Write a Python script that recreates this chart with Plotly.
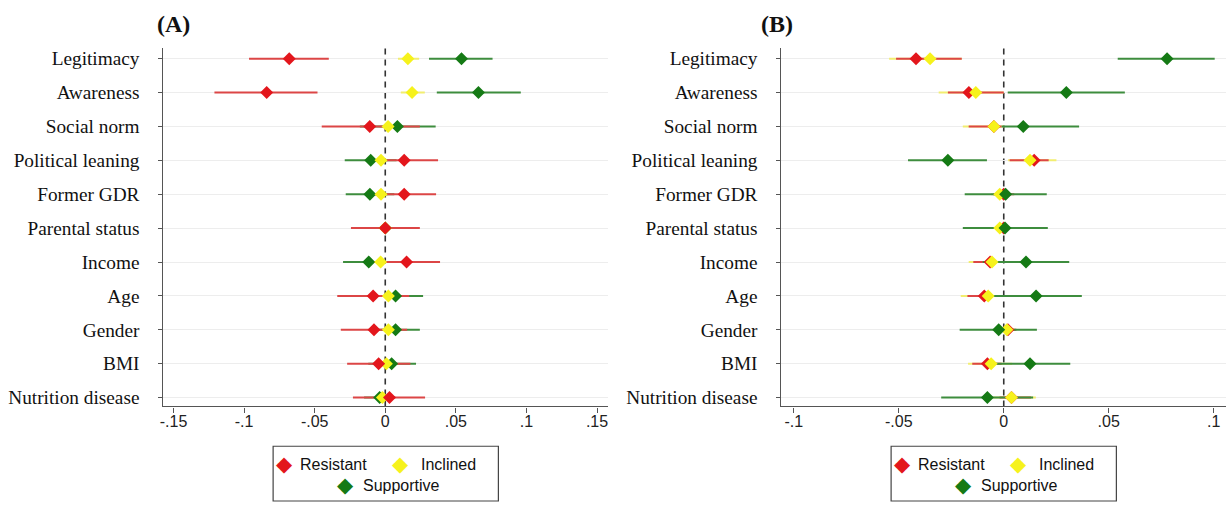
import plotly.graph_objects as go

W, H = 1231, 506

categories = ["Legitimacy", "Awareness", "Social norm", "Political leaning", "Former GDR",
              "Parental status", "Income", "Age", "Gender", "BMI", "Nutrition disease"]
groups = ["Resistant", "Inclined", "Supportive"]

# Panel A estimates and confidence bounds
a_res_est = [-0.068, -0.084, -0.011, 0.0134, 0.0134, 0.0, 0.0151, -0.0086, -0.008, -0.0047, 0.003]
a_res_lo = [-0.0965, -0.121, -0.045, -0.0106, -0.009, -0.0243, -0.0086, -0.034, -0.0315, -0.027, -0.0229]
a_res_hi = [-0.040, -0.048, 0.0245, 0.0374, 0.036, 0.0245, 0.0388, 0.017, 0.0155, 0.0178, 0.0282]
a_inc_est = [0.016, 0.019, 0.002, -0.003, -0.003, 0.0, -0.0033, 0.0022, 0.0022, 0.0008, -0.002]
a_inc_lo = [0.009, 0.011, -0.004, -0.008, -0.008, -0.005, -0.008, -0.003, -0.003, -0.004, -0.007]
a_inc_hi = [0.024, 0.028, 0.008, 0.002, 0.002, 0.005, 0.002, 0.007, 0.007, 0.006, 0.003]
a_sup_est = [0.054, 0.066, 0.0086, -0.0103, -0.0109, 0.0, -0.0117, 0.0073, 0.0073, 0.0045, -0.004]
a_sup_lo = [0.031, 0.0365, -0.018, -0.0287, -0.028, -0.015, -0.0299, -0.012, -0.010, -0.012, -0.015]
a_sup_hi = [0.076, 0.096, 0.0357, 0.008, 0.0064, 0.015, 0.0065, 0.0268, 0.0245, 0.0218, 0.007]

# Panel B estimates and confidence bounds
b_res_est = [-0.0418, -0.0166, -0.0047, 0.0145, 0.0, 0.0, -0.0065, -0.0093, 0.002, -0.0078, 0.0037]
b_res_lo = [-0.0513, -0.0266, -0.0167, 0.0028, -0.005, -0.005, -0.0145, -0.0173, -0.002, -0.015, -0.002]
b_res_hi = [-0.020, 0.0, -0.001, 0.0214, 0.005, 0.005, 0.001, -0.001, 0.006, -0.001, 0.013]
b_inc_est = [-0.0351, -0.0133, -0.0047, 0.0125, -0.0019, -0.0019, -0.0056, -0.0074, 0.0015, -0.006, 0.0037]
b_inc_lo = [-0.0546, -0.031, -0.0195, 0.002, -0.006, -0.006, -0.0167, -0.0205, -0.003, -0.017, -0.005]
b_inc_hi = [-0.020, 0.0, 0.0, 0.0251, 0.003, 0.003, 0.002, 0.003, 0.006, 0.004, 0.0153]
b_sup_est = [0.0778, 0.0298, 0.0093, -0.0266, 0.0009, 0.0006, 0.0106, 0.0154, -0.0024, 0.0125, -0.0078]
b_sup_lo = [0.0543, 0.0019, -0.001, -0.0456, -0.0186, -0.0195, -0.010, -0.0064, -0.021, -0.0067, -0.0298]
b_sup_hi = [0.1005, 0.0577, 0.0359, -0.008, 0.0205, 0.021, 0.0312, 0.0372, 0.0158, 0.0317, 0.014]

a_ticks = [-0.15, -0.1, -0.05, 0, 0.05, 0.1, 0.15]
a_ticktext = ["-.15", "-.1", "-.05", "0", ".05", ".1", ".15"]
b_ticks = [-0.1, -0.05, 0, 0.05, 0.1]
b_ticktext = ["-.1", "-.05", "0", ".05", ".1"]

marker_col = {"Resistant": "#e3161c", "Inclined": "#f6f21c", "Supportive": "#157a15"}
line_col = {"Resistant": "#dc4646", "Inclined": "#f2ee70", "Supportive": "#3e8d3e"}

panels = {
    "A": {"Resistant": (a_res_est, a_res_lo, a_res_hi),
          "Inclined": (a_inc_est, a_inc_lo, a_inc_hi),
          "Supportive": (a_sup_est, a_sup_lo, a_sup_hi)},
    "B": {"Resistant": (b_res_est, b_res_lo, b_res_hi),
          "Inclined": (b_inc_est, b_inc_lo, b_inc_hi),
          "Supportive": (b_sup_est, b_sup_lo, b_sup_hi)},
}
ci_order = {"A": ["Inclined", "Supportive", "Resistant"], "B": ["Inclined", "Resistant", "Supportive"]}
mk_order = {"A": ["Supportive", "Inclined", "Resistant"], "B": ["Resistant", "Inclined", "Supportive"]}
axes = {"A": ("x", "y"), "B": ("x2", "y2")}

fig = go.Figure()
for p in ["A", "B"]:
    xa, ya = axes[p]
    for g in ci_order[p]:
        est, lo, hi = panels[p][g]
        fig.add_trace(go.Scatter(
            x=est, y=categories, xaxis=xa, yaxis=ya, mode="markers",
            marker=dict(size=1, color="rgba(0,0,0,0)"),
            error_x=dict(type="data", symmetric=False,
                         array=[h - e for h, e in zip(hi, est)],
                         arrayminus=[e - l for e, l in zip(est, lo)],
                         color=line_col[g], thickness=2, width=0),
            showlegend=False, hoverinfo="skip"))
    for g in mk_order[p]:
        est, lo, hi = panels[p][g]
        fig.add_trace(go.Scatter(
            x=est, y=categories, xaxis=xa, yaxis=ya, mode="markers", name=g,
            marker=dict(symbol="diamond", size=10, color=marker_col[g], line=dict(width=0)),
            showlegend=False))

ydom = [1 - 408 / H, 1 - 48 / H]
xdomA = [160 / W, 606 / W]
xdomB = [780 / W, 1226 / W]

common_x = dict(showgrid=False, zeroline=False, showline=True, linecolor="#555555", linewidth=1.3,
                ticks="outside", ticklen=5, tickcolor="#555555", tickwidth=1.2,
                tickfont=dict(family="Liberation Sans, Arial, sans-serif", size=16, color="#222222"),
                ticklabelstandoff=-5)
common_y = dict(type="category", categoryorder="array", categoryarray=categories,
                range=[10.26, -0.32], showgrid=True, gridcolor="#ededed", gridwidth=1,
                zeroline=False, showline=True, linecolor="#555555", linewidth=1.3,
                ticks="outside", ticklen=4, tickcolor="#555555", tickwidth=1.2,
                tickfont=dict(family="Liberation Serif, Times New Roman, serif", size=19.3, color="#111111"),
                ticklabelstandoff=15)

fig.update_layout(
    width=W, height=H, margin=dict(l=0, r=0, t=0, b=0),
    paper_bgcolor="white", plot_bgcolor="white",
    xaxis=dict(domain=xdomA, range=[-0.1571, 0.1578], tickvals=a_ticks, ticktext=a_ticktext,
               anchor="y", **common_x),
    yaxis=dict(domain=ydom, anchor="x", **common_y),
    xaxis2=dict(domain=xdomB, range=[-0.1059, 0.1059], tickvals=b_ticks, ticktext=b_ticktext,
                anchor="y2", **common_x),
    yaxis2=dict(domain=ydom, anchor="x2", **common_y),
    showlegend=False,
)

# dashed zero lines
for xr, yr in [("x", "y domain"), ("x2", "y2 domain")]:
    fig.add_shape(type="line", xref=xr, yref=yr, x0=0, x1=0, y0=0, y1=1,
                  line=dict(color="#333333", width=1.6, dash="6px,5px"), layer="below")

# panel titles
tfont = dict(family="Liberation Serif, Times New Roman, serif", size=24, color="#111111")
fig.add_annotation(text="<b>(A)</b>", x=170 / W, y=1 - 24 / H, xref="paper", yref="paper",
                   showarrow=False, xanchor="center", yanchor="middle", font=tfont)
fig.add_annotation(text="<b>(B)</b>", x=776 / W, y=1 - 24 / H, xref="paper", yref="paper",
                   showarrow=False, xanchor="center", yanchor="middle", font=tfont)

# legends (boxed, two rows)
lfont = dict(family="Liberation Sans, Arial, sans-serif", size=16, color="#111111")
for left in [270, 890]:
    fig.add_shape(type="rect", xref="paper", yref="paper",
                  x0=left / W, x1=(left + 226) / W, y0=1 - 503 / H, y1=1 - 448 / H,
                  line=dict(color="#444444", width=1.2), fillcolor="white")
    items = [("Resistant", 11, 25, 466), ("Inclined", 128, 146, 466), ("Supportive", 73, 88, 487)]
    for g, dx, tx, yy in items:
        fig.add_annotation(text="\u25C6", x=(left + dx) / W, y=1 - yy / H, xref="paper", yref="paper",
                           showarrow=False, xanchor="center", yanchor="middle",
                           font=dict(family="DejaVu Sans", size=21, color=marker_col[g]))
        fig.add_annotation(text=g, x=(left + tx) / W, y=1 - yy / H, xref="paper", yref="paper",
                           showarrow=False, xanchor="left", yanchor="middle", font=lfont)

fig.write_html("out.html")
